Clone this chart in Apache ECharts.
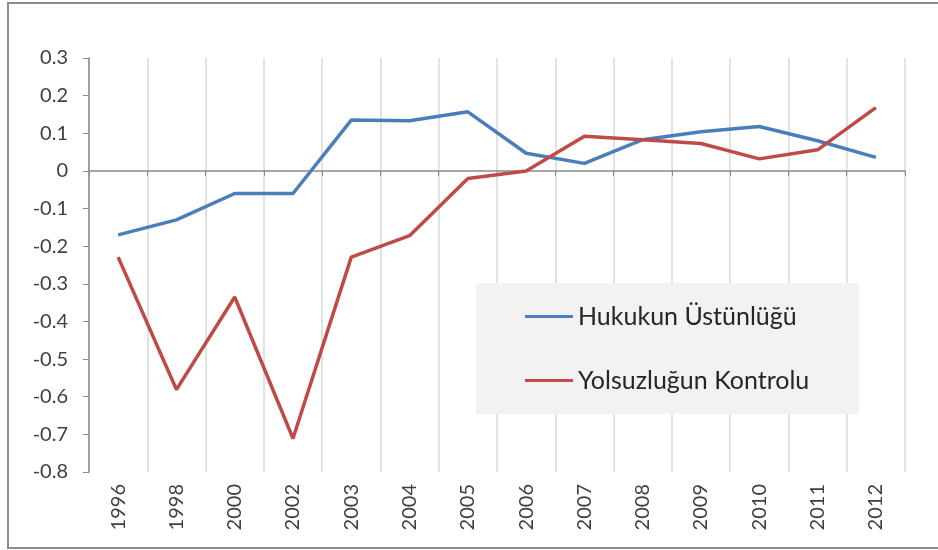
<!DOCTYPE html>
<html>
<head>
<meta charset="utf-8">
<script src="https://cdn.jsdelivr.net/npm/echarts@6/dist/echarts.min.js"></script>
<style>
  html, body { margin: 0; padding: 0; background: #fff; }
  #frame { position: absolute; left: 7px; top: 2px; width: 1000px; height: 547px; border: 2px solid #8c8c8c; box-sizing: border-box; }
  #chart { position: absolute; left: 0; top: 0; width: 938px; height: 550px; }
</style>
</head>
<body>
<div id="frame"></div>
<div id="chart"></div>
<script>
  // yillar (kategori ekseni)
  var years = ['1996', '1998', '2000', '2002', '2003', '2004', '2005', '2006', '2007', '2008', '2009', '2010', '2011', '2012'];
  // Hukukun Üstünlüğü
  var hukuk = [-0.17, -0.13, -0.06, -0.06, 0.135, 0.133, 0.157, 0.047, 0.02, 0.083, 0.104, 0.118, 0.08, 0.036];
  // Yolsuzluğun Kontrolu
  var yolsuzluk = [-0.229, -0.581, -0.335, -0.711, -0.229, -0.172, -0.02, 0.0, 0.092, 0.083, 0.073, 0.032, 0.056, 0.168];
  var seriesNames = ['Hukukun Üstünlüğü', 'Yolsuzluğun Kontrolu'];
  var yTicks = { min: -0.8, max: 0.3, step: 0.1 };

  var font = 'Lato';
  var textColor = '#404040';
  var axisColor = '#8a8a8a';

  var chart = echarts.init(document.getElementById('chart'));
  var option = {
    animation: false,
    grid: { left: 89, right: 33, top: 58, bottom: 78 },
    legend: {
      orient: 'vertical',
      left: 476,
      top: 283,
      backgroundColor: '#f2f2f2',
      padding: [21, 50, 21, 49],
      itemGap: 39,
      itemWidth: 48,
      itemHeight: 3,
      icon: 'rect',
      textStyle: { fontFamily: font, fontSize: 25, color: '#262626' },
      data: seriesNames
    },
    xAxis: [{
      type: 'category',
      data: years,
      position: 'bottom',
      boundaryGap: true,
      axisLine: { show: false, onZero: false },
      axisTick: { show: false },
      axisLabel: { rotate: 90, interval: 0, margin: 12, fontFamily: font, fontSize: 20, color: textColor },
      splitLine: { show: true, interval: 0, lineStyle: { color: '#d9d9d9', width: 1.5 } }
    }, {
      type: 'category',
      data: years,
      position: 'top',
      boundaryGap: true,
      axisLine: { show: true, onZero: true, lineStyle: { color: axisColor, width: 1.5 } },
      axisTick: { show: true, inside: true, length: 5, interval: 0, lineStyle: { color: axisColor } },
      axisLabel: { show: false },
      splitLine: { show: false }
    }],
    yAxis: {
      type: 'value',
      min: yTicks.min,
      max: yTicks.max,
      interval: yTicks.step,
      axisLine: { show: true, lineStyle: { color: axisColor, width: 1.5 } },
      axisTick: { show: true, length: 6, lineStyle: { color: axisColor } },
      axisLabel: {
        margin: 21,
        fontFamily: font, fontSize: 20, color: textColor,
        formatter: function (v) { return String(Math.round(v * 10) / 10); }
      },
      splitLine: { show: false }
    },
    series: [{
      name: seriesNames[0],
      type: 'line',
      data: hukuk,
      showSymbol: false,
      symbol: 'none',
      lineStyle: { color: '#4a7ebb', width: 3.5 },
      itemStyle: { color: '#4a7ebb' }
    }, {
      name: seriesNames[1],
      type: 'line',
      data: yolsuzluk,
      showSymbol: false,
      symbol: 'none',
      lineStyle: { color: '#be4b48', width: 3.5 },
      itemStyle: { color: '#be4b48' }
    }]
  };
  chart.setOption(option);
</script>
</body>
</html>
